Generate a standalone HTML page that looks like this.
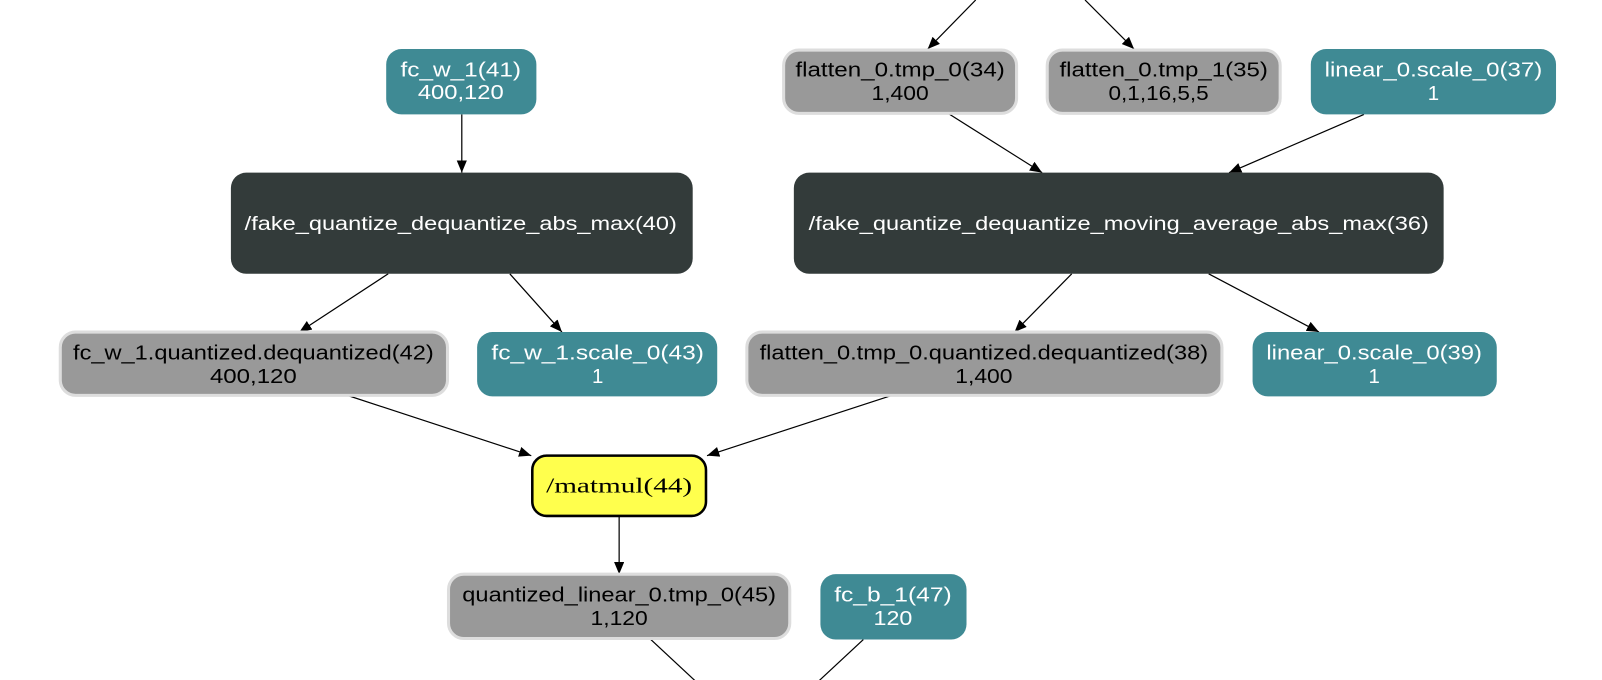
<!DOCTYPE html>
<html><head><meta charset="utf-8"><style>
html,body{margin:0;padding:0;background:#fff;}
svg{display:block;}
text{font-family:"Liberation Sans",sans-serif;font-size:20px;text-anchor:middle;}
.w{fill:#fff}.k{fill:#000}
.g{fill:#999;stroke:#ddd;stroke-width:3}
.t{fill:#3f8a94}
.d{fill:#333b3a}
line{stroke:#000;stroke-width:1.2}
</style></head><body>
<svg width="1602" height="680" viewBox="0 0 1568 665.6" preserveAspectRatio="none" xmlns="http://www.w3.org/2000/svg">
<defs><marker id="a" markerWidth="12" markerHeight="10" refX="12" refY="5" orient="auto" markerUnits="userSpaceOnUse"><path d="M0,0 L12,5 L0,10 z" fill="#000"/></marker></defs>
<line x1="955" y1="0" x2="908" y2="48" marker-end="url(#a)"/>
<line x1="1062" y1="0" x2="1110" y2="48" marker-end="url(#a)"/>
<line x1="452" y1="112" x2="452" y2="169" marker-end="url(#a)"/>
<line x1="928" y1="111" x2="1020" y2="169" marker-end="url(#a)"/>
<line x1="1335" y1="112" x2="1203" y2="169" marker-end="url(#a)"/>
<line x1="380" y1="268" x2="293" y2="325" marker-end="url(#a)"/>
<line x1="499" y1="268" x2="550" y2="325" marker-end="url(#a)"/>
<line x1="1049" y1="268" x2="993" y2="325" marker-end="url(#a)"/>
<line x1="1183" y1="268" x2="1291" y2="325" marker-end="url(#a)"/>
<line x1="340" y1="387" x2="520" y2="446" marker-end="url(#a)"/>
<line x1="873" y1="387" x2="692" y2="446" marker-end="url(#a)"/>
<line x1="606" y1="505" x2="606" y2="562" marker-end="url(#a)"/>
<line x1="636" y1="625" x2="680" y2="666"/>
<line x1="845" y1="626" x2="802" y2="666"/>

<rect class="t" x="378" y="48" width="147" height="64" rx="15"/>
<text class="w" x="451" y="75" textLength="118" lengthAdjust="spacingAndGlyphs">fc_w_1(41)</text>
<text class="w" x="451" y="97" textLength="84" lengthAdjust="spacingAndGlyphs">400,120</text>

<rect class="d" x="226" y="169" width="452" height="99" rx="15"/>
<text class="w" x="451" y="225" style="font-size:19px" textLength="423" lengthAdjust="spacingAndGlyphs">/fake_quantize_dequantize_abs_max(40)</text>

<rect class="g" x="59" y="325" width="379" height="62" rx="15"/>
<text class="k" x="248" y="352" textLength="353" lengthAdjust="spacingAndGlyphs">fc_w_1.quantized.dequantized(42)</text>
<text class="k" x="248" y="375" textLength="85" lengthAdjust="spacingAndGlyphs">400,120</text>

<rect class="t" x="467" y="325" width="235" height="63" rx="15"/>
<text class="w" x="585" y="352" textLength="208" lengthAdjust="spacingAndGlyphs">fc_w_1.scale_0(43)</text>
<text class="w" x="585" y="375">1</text>

<rect class="g" x="767" y="49" width="228" height="62" rx="15"/>
<text class="k" x="881" y="75" textLength="205" lengthAdjust="spacingAndGlyphs">flatten_0.tmp_0(34)</text>
<text class="k" x="881" y="98" textLength="56" lengthAdjust="spacingAndGlyphs">1,400</text>

<rect class="g" x="1025" y="49" width="228" height="62" rx="15"/>
<text class="k" x="1139" y="75" textLength="204" lengthAdjust="spacingAndGlyphs">flatten_0.tmp_1(35)</text>
<text class="k" x="1134" y="98" textLength="98" lengthAdjust="spacingAndGlyphs">0,1,16,5,5</text>

<rect class="t" x="1283" y="48" width="240" height="64" rx="15"/>
<text class="w" x="1403" y="75" textLength="213" lengthAdjust="spacingAndGlyphs">linear_0.scale_0(37)</text>
<text class="w" x="1403" y="98">1</text>

<rect class="d" x="777" y="169" width="636" height="99" rx="15"/>
<text class="w" x="1095" y="225" style="font-size:19px" textLength="607" lengthAdjust="spacingAndGlyphs">/fake_quantize_dequantize_moving_average_abs_max(36)</text>

<rect class="g" x="731" y="325" width="465" height="62" rx="15"/>
<text class="k" x="963" y="352" textLength="439" lengthAdjust="spacingAndGlyphs">flatten_0.tmp_0.quantized.dequantized(38)</text>
<text class="k" x="963" y="375" textLength="56" lengthAdjust="spacingAndGlyphs">1,400</text>

<rect class="t" x="1226" y="325" width="239" height="63" rx="15"/>
<text class="w" x="1345" y="352" textLength="211" lengthAdjust="spacingAndGlyphs">linear_0.scale_0(39)</text>
<text class="w" x="1345" y="375">1</text>

<rect x="521" y="446" width="170" height="59" rx="14" fill="#ffff4d" stroke="#000" stroke-width="2.5"/>
<text class="k" x="606" y="482" style="font-family:'Liberation Serif',serif;font-size:21px" textLength="143" lengthAdjust="spacingAndGlyphs">/matmul(44)</text>

<rect class="g" x="439" y="562" width="334" height="63" rx="15"/>
<text class="k" x="606" y="589" textLength="307" lengthAdjust="spacingAndGlyphs">quantized_linear_0.tmp_0(45)</text>
<text class="k" x="606" y="612" textLength="56" lengthAdjust="spacingAndGlyphs">1,120</text>

<rect class="t" x="803" y="562" width="143" height="64" rx="15"/>
<text class="w" x="874" y="589" textLength="115" lengthAdjust="spacingAndGlyphs">fc_b_1(47)</text>
<text class="w" x="874" y="612" textLength="38" lengthAdjust="spacingAndGlyphs">120</text>
</svg>
</body></html>
